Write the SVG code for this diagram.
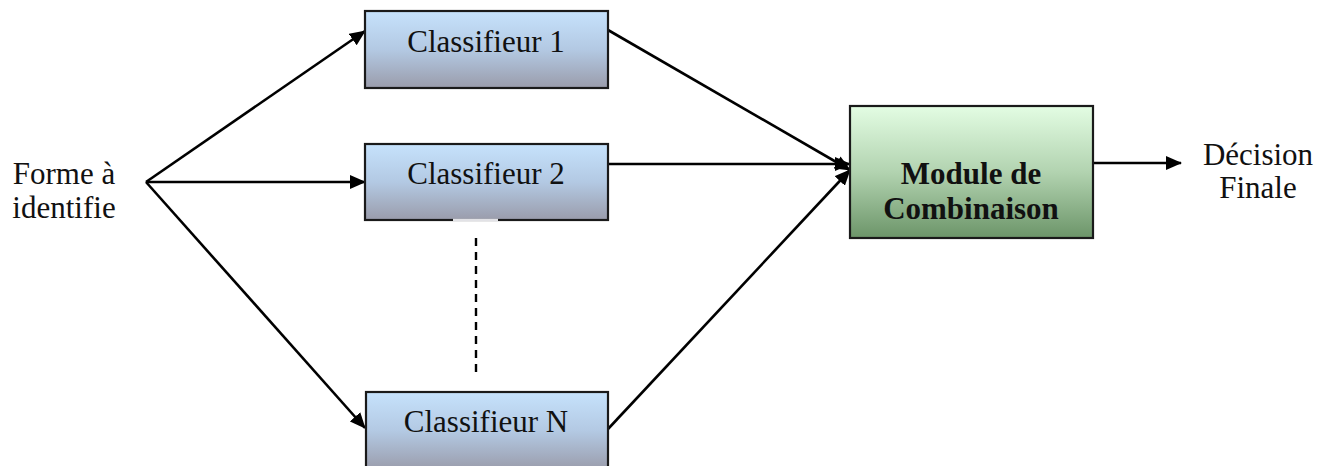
<svg xmlns="http://www.w3.org/2000/svg" width="1330" height="466" viewBox="0 0 1330 466">
  <style>
    .lbl { font-family: "Liberation Serif", "Times New Roman", serif; font-size: 31px; fill: #111; text-anchor: middle; }
    .bold { font-weight: bold; }
    .box { stroke: #1a1a1a; stroke-width: 2.2; }
    .edge { stroke: #000; stroke-width: 2.6; fill: none; }
  </style>
  <defs>
    <linearGradient id="blueFill" x1="0" y1="0" x2="0" y2="1">
      <stop offset="0" stop-color="#c6e2fc"/>
      <stop offset="0.5" stop-color="#b3c9e3"/>
      <stop offset="1" stop-color="#9a9cab"/>
    </linearGradient>
    <linearGradient id="greenFill" x1="0" y1="0" x2="0" y2="1">
      <stop offset="0" stop-color="#e3fde3"/>
      <stop offset="0.5" stop-color="#b2d3b0"/>
      <stop offset="1" stop-color="#6c9569"/>
    </linearGradient>
    <marker id="arrow" markerUnits="userSpaceOnUse" markerWidth="16" markerHeight="14" refX="15" refY="7" orient="auto">
      <path d="M0,0 L16,7 L0,14 Z" fill="#000"/>
    </marker>
  </defs>

  <!-- connectors -->
  <g id="connectors">
    <path class="edge" d="M146,182 L365,31" marker-end="url(#arrow)"/>
    <path class="edge" d="M146,182 L365,182" marker-end="url(#arrow)"/>
    <path class="edge" d="M146,182 L365,428" marker-end="url(#arrow)"/>
    <path class="edge" d="M608,30 L850,170" marker-end="url(#arrow)"/>
    <path class="edge" d="M608,164 L850,164" marker-end="url(#arrow)"/>
    <path class="edge" d="M608,429 L850,170" marker-end="url(#arrow)"/>
    <path class="edge" d="M1093,163 L1181,163" marker-end="url(#arrow)"/>
    <path d="M476,238 L476,372" stroke="#000" stroke-width="2.4" stroke-dasharray="8 6"/>
  </g>

  <g id="source">
    <text class="lbl" x="64" y="184">Forme à</text>
    <text class="lbl" x="64" y="218">identifie</text>
  </g>

  <g id="classifier1">
    <rect class="box" x="365" y="11" width="243" height="77" fill="url(#blueFill)"/>
    <text class="lbl" x="486" y="52">Classifieur 1</text>
  </g>

  <g id="classifier2">
    <rect class="box" x="365" y="144" width="243" height="76" fill="url(#blueFill)"/>
    <line x1="453" y1="220" x2="498" y2="220" stroke="#e2e2e6" stroke-width="2.4"/>
    <text class="lbl" x="486" y="184">Classifieur 2</text>
  </g>

  <g id="classifierN">
    <rect class="box" x="366" y="392" width="242" height="78" fill="url(#blueFill)"/>
    <text class="lbl" x="486" y="432">Classifieur N</text>
  </g>

  <g id="combination">
    <rect class="box" x="850" y="106" width="243" height="132" fill="url(#greenFill)"/>
    <text class="lbl bold" x="971" y="184">Module de</text>
    <text class="lbl bold" x="971" y="219">Combinaison</text>
  </g>

  <g id="decision">
    <text class="lbl" x="1258" y="165">Décision</text>
    <text class="lbl" x="1258" y="198">Finale</text>
  </g>
</svg>
